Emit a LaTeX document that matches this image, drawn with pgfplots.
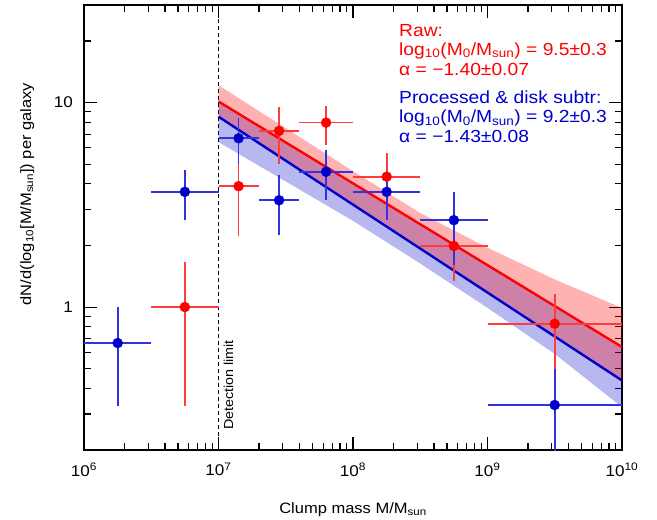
\documentclass[border=0pt]{standalone}
\usepackage{fontspec}
\setmainfont{Liberation Sans}[FakeStretch=1.1]
\usepackage{pgfplots}
\usepackage{pgfplotstable}
\pgfplotsset{compat=1.18}
\definecolor{myred}{RGB}{255,0,0}
\definecolor{myblue}{RGB}{0,0,205}
\definecolor{ebred}{RGB}{255,60,60}
\definecolor{ebblue}{RGB}{50,50,225}

\pgfplotstableread{
x y xlo xhi ylo yhi
5.62e6 1.00 3.16e6 1e7 0.33 1.66
1.41e7 3.90 1e7 2.0e7 2.22 5.2
2.82e7 7.27 2.0e7 3.98e7 5.0 9.5
6.31e7 7.98 3.98e7 1e8 6.2 9.63
1.78e8 4.34 1e8 3.16e8 3.0 5.65
5.62e8 1.99 3.16e8 1e9 1.34 2.7
3.16e9 0.829 1e9 1e10 0.50 1.16
}\redtab

\pgfplotstableread{
x y xlo xhi ylo yhi
1.78e6 0.667 1e6 3.16e6 0.33 1.0
5.62e6 3.66 3.16e6 1e7 2.66 4.68
1.41e7 6.69 1e7 2.0e7 5.0 8.38
2.82e7 3.33 2.0e7 3.98e7 2.25 4.42
6.31e7 4.59 3.98e7 1e8 3.33 5.86
1.78e8 3.66 1e8 3.16e8 2.66 4.5
5.62e8 2.66 3.16e8 1e9 1.6 3.66
3.16e9 0.332 1e9 1e10 0.1 0.5
}\bluetab

\begin{document}
\begin{tikzpicture}
\begin{axis}[
  scale only axis, width=538pt, height=445pt,
  xmode=log, ymode=log,
  xmin=1e6, xmax=1e10, ymin=0.2, ymax=30,
  xtick={1e6,1e7,1e8,1e9,1e10},
  xticklabels={10\textsuperscript{6},10\textsuperscript{7},10\textsuperscript{8},10\textsuperscript{9},10\textsuperscript{10}},
  minor xtick={2e6,3e6,4e6,5e6,6e6,7e6,8e6,9e6,2e7,3e7,4e7,5e7,6e7,7e7,8e7,9e7,2e8,3e8,4e8,5e8,6e8,7e8,8e8,9e8,2e9,3e9,4e9,5e9,6e9,7e9,8e9,9e9},
  ytick={1,10}, yticklabels={1,10},
  minor ytick={0.2,0.3,0.4,0.5,0.6,0.7,0.8,0.9,2,3,4,5,6,7,8,9,20,30},
  tick align=inside,
  major tick length=13pt, minor tick length=7pt,
  every tick/.style={black, line width=1.1pt},
  axis line style={black, line width=1.5pt},
  xticklabel style={font=\fontsize{15.5}{17}\selectfont, anchor=north, inner sep=0pt, yshift=-13pt},
  yticklabel style={font=\fontsize{15.5}{17}\selectfont, anchor=east, inner sep=0pt, xshift=-11pt},
  xlabel={Clump mass M/M\textsubscript{sun}},
  ylabel={dN/d(log\textsubscript{10}[M/M\textsubscript{sun}]) per galaxy},
  xlabel style={font=\fontsize{15}{17}\selectfont, at={([yshift=-63pt]axis description cs:0.5,0)}, anchor=base},
  ylabel style={font=\fontsize{15}{17}\selectfont, at={([xshift=-53pt]axis description cs:0,0.575)}, anchor=base, rotate=0},
  clip=true,
]
% bands
\addplot[draw=none, fill=myblue, fill opacity=0.28] coordinates {(1e7,10.12)(1e8,4.03)(3.162e8,2.54)(1e9,1.60)(3.162e9,1.01)(1e10,0.638)(1e10,0.324)(3.162e9,0.590)(1e9,0.991)(3.162e8,1.633)(1e8,2.64)(1e7,6.41)} -- cycle;
\addplot[draw=none, fill=myred, fill opacity=0.3] coordinates {(1e7,12.16)(1e8,4.62)(3.162e8,2.884)(1e9,1.95)(3.162e9,1.365)(1e10,0.989)(1e10,0.4375)(3.162e9,0.718)(1e9,1.178)(3.162e8,1.93)(1e8,3.17)(1e7,8.53)} -- cycle;
% fit lines
\addplot[myred, line width=2.4pt] coordinates {(1e7,10.12)(1e10,0.638)};
\addplot[myblue, line width=2.4pt] coordinates {(1e7,8.53)(1e10,0.4375)};
% detection limit
\addplot[black, line width=1.4pt, dash pattern=on 4pt off 3pt] coordinates {(1e7,0.2)(1e7,30)};
% data
\addplot[only marks, mark=*, mark size=5pt, color=myred,
  error bars/.cd, x dir=both, x explicit, y dir=both, y explicit, error mark=none,
  error bar style={ebred, line width=1.7pt}]
  table[x=x, y=y,
    x error plus expr=\thisrow{xhi}-\thisrow{x}, x error minus expr=\thisrow{x}-\thisrow{xlo},
    y error plus expr=\thisrow{yhi}-\thisrow{y}, y error minus expr=\thisrow{y}-\thisrow{ylo}] {\redtab};
\addplot[only marks, mark=*, mark size=5pt, color=myblue,
  error bars/.cd, x dir=both, x explicit, y dir=both, y explicit, error mark=none,
  error bar style={ebblue, line width=1.7pt}]
  table[x=x, y=y,
    x error plus expr=\thisrow{xhi}-\thisrow{x}, x error minus expr=\thisrow{x}-\thisrow{xlo},
    y error plus expr=\thisrow{yhi}-\thisrow{y}, y error minus expr=\thisrow{y}-\thisrow{ylo}] {\bluetab};
% annotations
\path (axis cs:1e7,0.2) ++(5pt,20pt) node[rotate=90, anchor=north west, inner sep=0pt, font=\fontsize{13}{14}\selectfont] {Detection limit};
\begin{scope}[every node/.style={anchor=base west, inner sep=0pt, font=\fontsize{17.5}{20}\selectfont}]
\node[text=myred] at ([shift={(315pt,-31pt)}]rel axis cs:0,1) {Raw:};
\node[text=myred] at ([shift={(315pt,-50pt)}]rel axis cs:0,1) {log\textsubscript{10}(M\textsubscript{0}/M\textsubscript{sun}) = 9.5±0.3};
\node[text=myred] at ([shift={(315pt,-70pt)}]rel axis cs:0,1) {α = −1.40±0.07};
\node[text=myblue] at ([shift={(315pt,-98.3pt)}]rel axis cs:0,1) {Processed \& disk subtr:};
\node[text=myblue] at ([shift={(315pt,-117.7pt)}]rel axis cs:0,1) {log\textsubscript{10}(M\textsubscript{0}/M\textsubscript{sun}) = 9.2±0.3};
\node[text=myblue] at ([shift={(315pt,-137.7pt)}]rel axis cs:0,1) {α = −1.43±0.08};
\end{scope}
\end{axis}
\path ([shift={(-84pt,-68pt)}]current axis.south west) rectangle ([shift={(35pt,5pt)}]current axis.north east);
\end{tikzpicture}
\end{document}
